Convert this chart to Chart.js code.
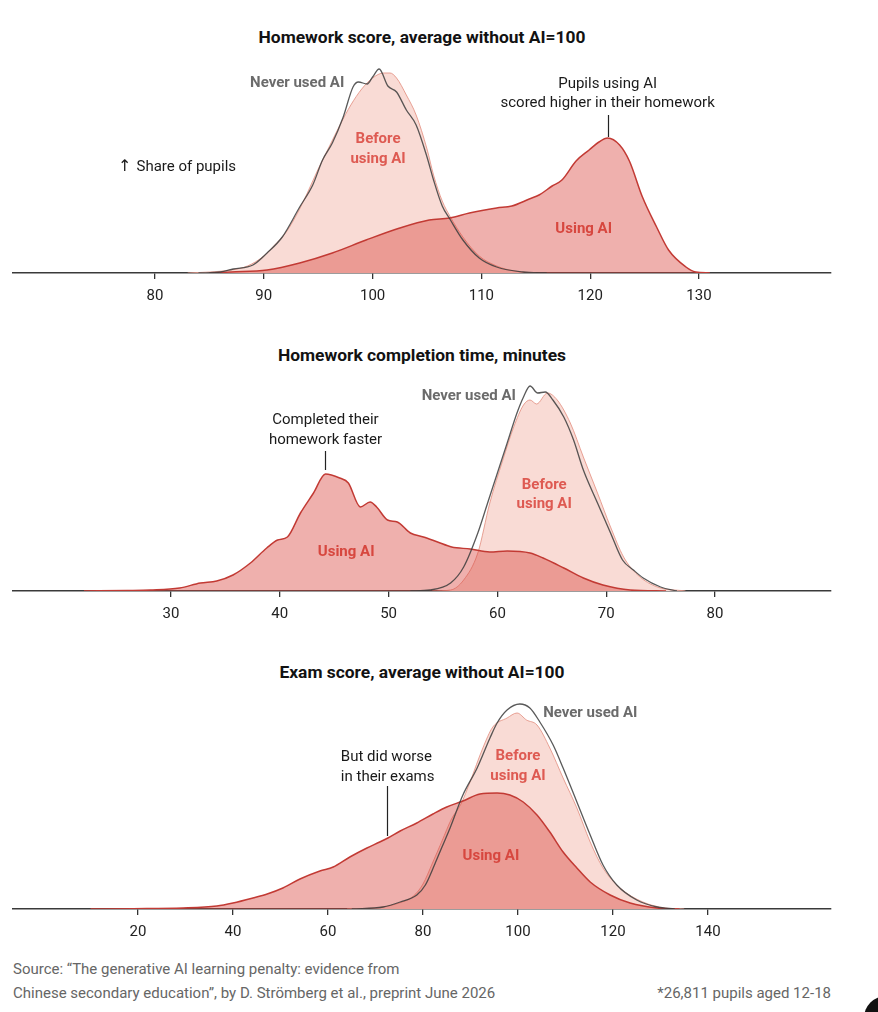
<!DOCTYPE html>
<html><head><meta charset="utf-8">
<script src="https://cdn.jsdelivr.net/npm/chart.js@4.4.1/dist/chart.umd.min.js"></script>
<style>
html,body{margin:0;padding:0;background:#fff;width:878px;height:1012px;overflow:hidden;font-family:Roboto,"Noto Sans",sans-serif;}
.title{position:absolute;left:0;width:844px;text-align:center;font-weight:700;font-size:17.4px;color:#121212;line-height:20px;}
.wrap{position:absolute;left:0;width:878px;height:270px;}
.foot{position:absolute;font-size:15px;color:#666;line-height:18px;white-space:nowrap;}
.blob{position:absolute;left:864px;top:996px;width:44px;height:44px;border-radius:50%;background:#111;}
</style></head><body>
<div class="title" style="top:27px">Homework score, average without AI=100</div>
<div class="wrap" style="top:43px"><canvas id="c1"></canvas></div>
<div class="title" style="top:345px">Homework completion time, minutes</div>
<div class="wrap" style="top:361px"><canvas id="c2"></canvas></div>
<div class="title" style="top:662px">Exam score, average without AI=100</div>
<div class="wrap" style="top:679px"><canvas id="c3"></canvas></div>
<div class="foot" style="left:13px;top:960px">Source: “The generative AI learning penalty: evidence from</div>
<div class="foot" style="left:13px;top:984px">Chinese secondary education”, by D. Strömberg et al., preprint June 2026</div>
<div class="foot" style="right:47px;top:984px">*26,811 pupils aged 12-18</div>
<div class="blob"></div>
<script>
// ---------- Chart 1: Homework score ----------
const hwScoreTicks = [80, 90, 100, 110, 120, 130];
const hwScoreNeverX = [84, 86, 87.2, 89, 90.3, 91.7, 93.3, 94.5, 95.4, 96.3, 97.3, 98.2, 98.7, 99.5, 100.0, 100.6, 101.4, 102.2, 103.1, 104.0, 105.0, 105.6, 106.4, 107.1, 108.3, 109.8, 111.4, 113.8, 116];
const hwScoreNeverY = [0, 1, 4, 8, 20, 36, 66, 88, 113, 130, 156, 186, 191, 189, 196, 204, 187, 181, 163, 148, 116, 93, 67, 54, 33, 15, 6, 1, 0];
const hwScoreBeforeX = [83, 85, 87, 88.5, 90, 91, 92, 93, 94, 95, 96, 97, 98, 99, 100, 101, 101.6, 102.2, 103.1, 104, 105, 105.6, 106.4, 107.1, 108.3, 109.8, 111.4, 113, 115];
const hwScoreBeforeY = [0, 1, 3, 7, 17, 28, 40, 58, 80, 104, 126, 148, 168, 184, 195, 200, 200, 195, 178, 158, 124, 98, 72, 57, 36, 17, 7, 2, 0];
const hwScoreUsingX = [85, 87, 90.3, 93.3, 96.3, 99.4, 102.5, 105.2, 107.1, 108.9, 111.4, 112.8, 114.4, 115.3, 116.5, 117.4, 118.7, 119.9, 120.8, 121.6, 122.7, 123.6, 124.8, 126.1, 127.2, 128.8, 129.7, 131];
const hwScoreUsingY = [0, 1, 3, 10, 20, 33, 45, 53, 55, 60, 65, 67, 74, 78, 87, 93, 112, 123, 131, 135, 128, 112, 76, 46, 23, 6, 1, 0];

// ---------- Chart 2: Homework completion time ----------
const hwTimeTicks = [30, 40, 50, 60, 70, 80];
const hwTimeNeverX = [52, 53.8, 55.7, 56.9, 58.2, 59.1, 60.0, 60.9, 61.8, 62.4, 63.0, 63.7, 64.4, 65.1, 66.1, 67.0, 67.9, 69.2, 70.4, 71.5, 72.5, 73.4, 75.0, 76.5];
const hwTimeNeverY = [0, 1, 8, 24, 58, 88, 118, 148, 178, 194, 205, 198, 199, 191, 174, 151, 121, 88, 58, 31, 21, 13, 4, 0];
const hwTimeBeforeX = [54, 55.7, 56.9, 58.2, 59.3, 60.5, 61.5, 62.4, 63.0, 63.6, 64.6, 65.5, 66.7, 67.9, 69.2, 70.4, 71.6, 72.9, 74.7, 77.3];
const hwTimeBeforeY = [0, 1, 11, 38, 88, 131, 164, 186, 191, 187, 198, 191, 168, 134, 98, 64, 34, 16, 4, 0];
const hwTimeUsingX = [22, 26, 28.1, 30.8, 32.7, 34.2, 35.7, 37.3, 38.8, 39.8, 40.7, 41.9, 43.1, 44.2, 45.5, 46.3, 47.4, 48.3, 48.9, 49.9, 50.8, 52.0, 53.2, 54.5, 55.8, 57.5, 59.3, 60.9, 63.0, 64.2, 66.1, 67.9, 69.7, 72.2, 75.5];
const hwTimeUsingY = [0, 0.5, 1, 3, 8, 10, 16, 28, 43, 51, 54, 78, 98, 117, 113, 108, 84, 89, 84, 71, 69, 58, 54, 49, 44, 42, 39, 40, 38, 33, 23, 13, 6, 1, 0];

// ---------- Chart 3: Exam score ----------
const examTicks = [20, 40, 60, 80, 100, 120, 140];
const examNeverX = [65, 71.6, 75.2, 78.7, 80.5, 82.5, 84, 85.7, 88.4, 91.4, 94.1, 95.6, 97.7, 100.4, 102.5, 104.6, 107.4, 109.5, 112.4, 115.2, 117.9, 120.8, 125, 129.3, 133];
const examNeverY = [0, 2, 7, 14, 24, 45, 62, 81, 114, 141, 171, 186, 199, 205, 201, 187, 164, 141, 107, 74, 44, 24, 9, 2, 0];
const examBeforeX = [64, 70, 75, 78, 80, 82, 84, 86, 88, 89.9, 92.6, 94.7, 97.7, 99.8, 101.8, 104, 106.7, 109.5, 112.4, 115.2, 117.9, 121.5, 126.3, 131, 135];
const examBeforeY = [0, 1, 6, 13, 25, 46, 68, 90, 105, 127, 161, 182, 191, 196, 189, 184, 161, 131, 101, 67, 41, 21, 7, 1, 0];
const examUsingX = [10, 19, 29.5, 36.6, 40, 44.2, 47.2, 50.5, 54.1, 58.3, 61.1, 64.6, 68.2, 70.9, 72.6, 75.2, 78.7, 82.1, 85.0, 88.4, 92.0, 95.6, 98.3, 101.1, 104, 106.7, 109.5, 112.4, 115.2, 119.4, 123.6, 129.3, 134];
const examUsingY = [0, 0.3, 1, 3, 6, 11, 15, 21, 30, 38, 42, 52, 61, 67, 71, 78, 86, 95, 102, 108, 115, 116, 114, 107, 94, 77, 57, 41, 27, 14, 6, 1, 0];

// ---------- Labels (text, anchored in data units) ----------
const GRAY = '#6b6b6b', RED = '#d7473f', RED2 = '#de5a52', INK = '#1a1a1a';
const hwScoreNotes = [
  {text: 'Never used AI', x: 97.4, y: 190, color: GRAY, bold: true, align: 'right'},
  {text: 'Before', x: 100.5, y: 134, color: RED2, bold: true, align: 'center'},
  {text: 'using AI', x: 100.5, y: 114, color: RED2, bold: true, align: 'center'},
  {text: 'Using AI', x: 119.4, y: 44, color: RED, bold: true, align: 'center'},
  {text: 'Pupils using AI', x: 121.6, y: 189, color: INK, bold: false, align: 'center'},
  {text: 'scored higher in their homework', x: 121.6, y: 170, color: INK, bold: false, align: 'center'},
  {text: '↑', x: 76.6, y: 106, color: INK, bold: false, align: 'left', family: '"DejaVu Sans"', size: 16},
  {text: 'Share of pupils', x: 78.3, y: 106, color: INK, bold: false, align: 'left'}
];
const hwScoreLeaders = [{x: 121.6, y1: 158, y2: 136}];
const hwTimeNotes = [
  {text: 'Never used AI', x: 61.7, y: 195, color: GRAY, bold: true, align: 'right'},
  {text: 'Before', x: 64.3, y: 106, color: RED2, bold: true, align: 'center'},
  {text: 'using AI', x: 64.3, y: 87, color: RED2, bold: true, align: 'center'},
  {text: 'Using AI', x: 46.1, y: 39, color: RED, bold: true, align: 'center'},
  {text: 'Completed their', x: 44.2, y: 171, color: INK, bold: false, align: 'center'},
  {text: 'homework faster', x: 44.2, y: 151, color: INK, bold: false, align: 'center'}
];
const hwTimeLeaders = [{x: 44.2, y1: 140, y2: 121}];
const examNotes = [
  {text: 'Never used AI', x: 105.3, y: 196, color: GRAY, bold: true, align: 'left'},
  {text: 'Before', x: 100, y: 153, color: RED2, bold: true, align: 'center'},
  {text: 'using AI', x: 100, y: 133, color: RED2, bold: true, align: 'center'},
  {text: 'Using AI', x: 94.3, y: 53, color: RED, bold: true, align: 'center'},
  {text: 'But did worse', x: 62.7, y: 152, color: INK, bold: false, align: 'left'},
  {text: 'in their exams', x: 62.7, y: 132, color: INK, bold: false, align: 'left'}
];
const examLeaders = [{x: 72.4, y1: 123, y2: 73}];

// ---------- helpers ----------
const pts = (xs, ys) => xs.map((x, i) => ({x, y: ys[i]}));

const notesPlugin = {
  id: 'notes',
  afterDatasetsDraw(chart, args, opts) {
    const {ctx, scales: {x, y}} = chart;
    ctx.save();
    (opts.leaders || []).forEach(l => {
      ctx.strokeStyle = '#222'; ctx.lineWidth = 1.2;
      ctx.beginPath();
      const px = Math.round(x.getPixelForValue(l.x)) + 0.5;
      ctx.moveTo(px, y.getPixelForValue(l.y1));
      ctx.lineTo(px, y.getPixelForValue(l.y2));
      ctx.stroke();
    });
    (opts.items || []).forEach(n => {
      ctx.font = (n.bold ? '700 ' : '400 ') + (n.size || 15) + 'px ' + (n.family || 'Roboto') + ', "Noto Sans", sans-serif';
      ctx.fillStyle = n.color;
      ctx.textAlign = n.align;
      ctx.textBaseline = 'middle';
      ctx.fillText(n.text, x.getPixelForValue(n.x), y.getPixelForValue(n.y));
    });
    ctx.restore();
  }
};

function xAxis(min, max, ticks) {
  return {
    type: 'linear', min, max,
    afterBuildTicks(s) { s.ticks = ticks.map(v => ({value: v})); },
    afterFit(s) { s.height = 40; },
    grid: {display: true, drawOnChartArea: false, drawTicks: true, tickLength: 6, color: '#333', lineWidth: 1.3},
    border: {display: true, color: '#3a3a3a', width: 1.5},
    ticks: {color: '#222', font: {family: 'Roboto', size: 15}, padding: 8, maxRotation: 0, autoSkip: false}
  };
}

function makeChart(id, min, max, ticks, never, before, using, notes, leaders) {
  new Chart(document.getElementById(id), {
    type: 'line',
    data: {
      datasets: [
        {label: 'Never used AI', data: never, order: 0, fill: false,
         borderColor: 'rgba(60,60,60,0.85)', borderWidth: 1.3},
        {label: 'Using AI', data: using, order: 1, fill: 'origin',
         backgroundColor: 'rgba(218,66,60,0.42)', borderColor: '#c23a34', borderWidth: 1.5},
        {label: 'Before using AI', data: before, order: 2, fill: 'origin',
         backgroundColor: '#f9dbd5', borderColor: 'rgba(226,140,125,0.8)', borderWidth: 1}
      ]
    },
    options: {
      responsive: true, maintainAspectRatio: false, animation: false, events: [],
      layout: {padding: {left: 13, right: 47, top: 0, bottom: 0}},
      elements: {point: {radius: 0}, line: {cubicInterpolationMode: 'monotone', borderJoinStyle: 'round'}},
      scales: {x: xAxis(min, max, ticks), y: {display: false, min: 0, max: 230}},
      plugins: {legend: {display: false}, tooltip: {enabled: false}, notes: {items: notes, leaders}}
    },
    plugins: [notesPlugin]
  });
}

makeChart('c1', 66.95, 142.13, hwScoreTicks,
  pts(hwScoreNeverX, hwScoreNeverY), pts(hwScoreBeforeX, hwScoreBeforeY), pts(hwScoreUsingX, hwScoreUsingY),
  hwScoreNotes, hwScoreLeaders);
makeChart('c2', 15.48, 90.66, hwTimeTicks,
  pts(hwTimeNeverX, hwTimeNeverY), pts(hwTimeBeforeX, hwTimeBeforeY), pts(hwTimeUsingX, hwTimeUsingY),
  hwTimeNotes, hwTimeLeaders);
makeChart('c3', -6.32, 165.9, examTicks,
  pts(examNeverX, examNeverY), pts(examBeforeX, examBeforeY), pts(examUsingX, examUsingY),
  examNotes, examLeaders);
</script>
</body></html>
